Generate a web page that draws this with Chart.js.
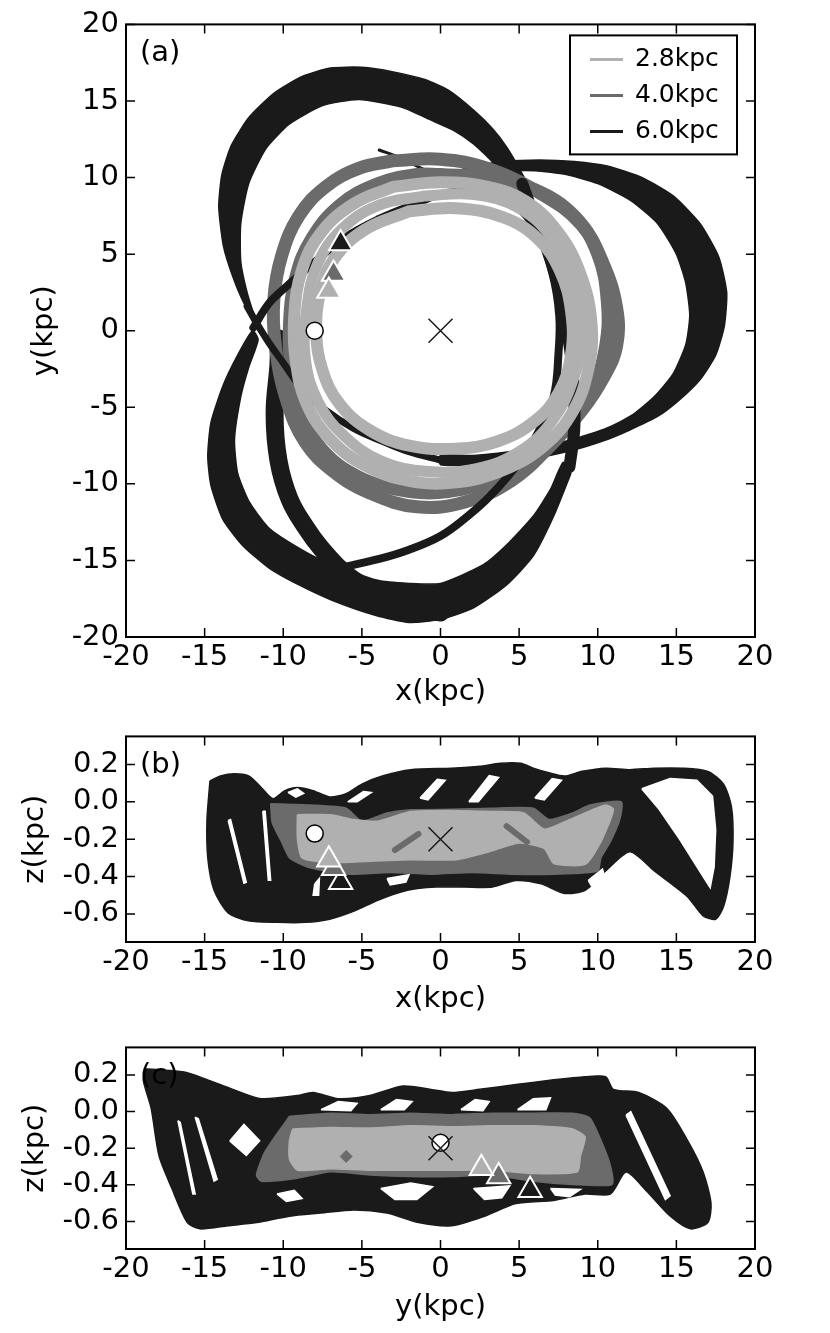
<!DOCTYPE html>
<html>
<head>
<meta charset="utf-8">
<script src="https://cdn.jsdelivr.net/npm/chart.js@4/dist/chart.umd.min.js"></script>
<style>
  body { margin: 0; background: #fff; }
  canvas { position: absolute; left: 0; }
</style>
</head>
<body>
<canvas id="pa" width="830" height="712" style="top:0"></canvas>
<canvas id="pb" width="830" height="311" style="top:712px"></canvas>
<canvas id="pc" width="830" height="310" style="top:1023px"></canvas>
<script>
// ---- ticks / series ----
const xTicks = [-20, -15, -10, -5, 0, 5, 10, 15, 20];
const yTicksA = [-20, -15, -10, -5, 0, 5, 10, 15, 20];
const zTicks = [-0.6, -0.4, -0.2, 0.0, 0.2];
const seriesLabels = ['2.8kpc', '4.0kpc', '6.0kpc'];
const seriesColors = ['#b0b0b0', '#6b6b6b', '#1a1a1a'];

// markers: sun, centre, start points of the three orbits (x, y, z)
const sunXYZ = [-8.0, 0.0, -0.17];
const centreXYZ = [0.0, 0.0, -0.2];
const startX = [-7.1, -6.8, -6.35];
const startY = [2.6, 3.7, 5.7];
const startZ = [-0.31, -0.355, -0.43];

// ---- panel (a): x-y plane ----
// 2.8 kpc orbit passes
const aLight1 = [[-3,9.4],[0,9.7],[3,9.4],[5.5,8.4],[7.5,6.4],[8.9,3.7],[9.6,0.5],[9.4,-2.5],[8.4,-5.3],[6.6,-7.5],[4,-9.1],[1,-9.9],[-2,-9.8],[-4.8,-8.8],[-7,-7.1],[-8.5,-4.8],[-9.2,-2],[-9.3,1],[-8.8,4],[-7.6,6.4],[-5.5,8.3]];
const aLight2 = [[-2,7.8],[1,8.0],[4,7.4],[6.2,6.0],[7.6,3.9],[8.3,1.3],[8.3,-1.6],[7.5,-4.1],[6.0,-5.9],[3.7,-7.2],[1,-7.7],[-2,-7.5],[-4.5,-6.5],[-6.4,-4.8],[-7.5,-2.6],[-7.9,0],[-7.6,2.7],[-6.7,4.8],[-4.8,6.6]];
const aLight3 = [[-1,8.8],[2,8.9],[5,8.0],[7.2,5.9],[8.6,3],[9.0,0],[8.5,-3],[7.1,-5.9],[5,-7.9],[2.3,-9.0],[-0.8,-9.2],[-3.8,-8.5],[-6.2,-6.8],[-7.8,-4.6],[-8.6,-1.8],[-8.5,1.5],[-7.8,4.4],[-6.2,6.7],[-3.9,8.2]];
// 4.0 kpc orbit passes
const aGrey1 = [[-3,11.1],[0,11.2],[3,10.6],[6.3,9],[8.9,7],[10.3,4.5],[11.2,1.5],[11.2,-1],[10.4,-3],[9,-5.2],[7,-7.5],[4.5,-9.8],[1.5,-11.2],[-1.5,-11.5],[-4.5,-10.6],[-6.8,-9.2],[-8.6,-7.3],[-9.8,-4.5],[-10.5,-1],[-10.6,2],[-10.1,4.9],[-9,7.5],[-7.3,9.4],[-5.2,10.6]];
const aGrey2 = [[0,10.2],[3,10],[6,9.2],[8.5,7.5],[10,5],[10.6,2],[10.5,-1],[9.6,-4],[8,-6.3],[6,-8],[3.5,-9.6],[0.5,-10.5],[-2.5,-10.4],[-5.3,-9.5],[-7.5,-7.8],[-8.8,-5.5],[-9.5,-2.5],[-9.6,0.5],[-9.2,3.5],[-8.2,6],[-6.4,8.2],[-4,9.6],[-1.5,10.2]];
// 6.0 kpc orbit: wide bands (outer edge then inner edge)
const aBlackTop = [[-11.7,0.5],[-12.5,1.8],[-13.2,3.5],[-13.8,5.5],[-14.1,8.1],[-13.9,10.2],[-13.3,12.1],[-12.2,13.9],[-10.6,15.5],[-8.8,16.6],[-7,17.15],[-5,17.2],[-3,16.9],[-1,16.4],[0.5,15.7],[2.1,14.4],[3.3,13.2],[4.2,12],[5.0,10.6],[5.6,9.3],
  [4.85,8.8],[4.2,9.6],[3.4,10.9],[2.1,12.2],[0.8,13.1],[-0.5,13.7],[-2.5,14.6],[-5.2,15.1],[-7.5,14.7],[-9.6,13.5],[-11.1,11.9],[-12.2,9.6],[-12.7,7],[-12.7,4.5],[-12.3,2.5]];
const aBlackRight = [[0,10.1],[2,10.7],[4,11.05],[6.3,11.15],[8.5,11.05],[10.6,10.75],[12.8,10],[14.8,8.8],[16.5,7.0],[17.7,4.8],[18.2,2.5],[18.05,0.3],[17.5,-1.6],[16.5,-3.2],[15.1,-4.6],[13.8,-5.6],[12,-6.5],[10.6,-7.1],[8.4,-7.8],[5.3,-8.45],[2.1,-8.75],[0,-8.75],
  [0,-8.15],[2.1,-8.15],[5.3,-7.75],[8.4,-7.1],[10.6,-6.35],[12.2,-5.5],[13.6,-4.3],[14.8,-2.8],[15.6,-0.9],[15.85,1],[15.6,3.1],[15,5],[13.8,7],[12.1,8.5],[10,9.6],[8,10.2],[6,10.45],[4,10.4],[2,10.1],[0,9.6]];
const aBlackBottom = [[8.3,-9.3],[7.2,-12.1],[5.9,-14.7],[4.2,-16.6],[2.1,-18.1],[0,-18.85],[-2,-19.05],[-4.1,-18.6],[-6.9,-17.6],[-9,-16.6],[-10.9,-15.5],[-12.6,-14.0],[-13.85,-12.3],[-14.6,-10.1],[-14.8,-8.2],[-14.6,-6],[-13.85,-3.64],[-12.9,-1.6],[-11.95,0.0],
  [-11.6,-0.6],[-12.2,-2.4],[-12.7,-4.3],[-13.1,-7.1],[-12.9,-9.3],[-12.15,-11.2],[-10.9,-12.9],[-9,-14.2],[-7.3,-15.1],[-4,-16.3],[-2,-16.5],[0,-16.5],[2.7,-15.3],[4.2,-14],[5.9,-12.1],[7,-10.35],[7.8,-8.6]];
// 6.0 kpc orbit: narrow strands
const aStrand1 = [[-3.9,11.8],[-2.6,11.3],[-1.2,10.6],[0,10.1],[1,10.3]];
const aStrand2 = [[0,-8.45],[-2,-7.9],[-3.5,-7.3],[-5.5,-6.4],[-7.3,-5.2],[-8.8,-3.8],[-10,-2.1],[-10.9,-0.8],[-11.7,0.5],[-12.3,1.6]];
const aStrand3 = [[-11.9,0.2],[-10.9,1.8],[-10,2.7],[-8.1,4.4],[-6.2,6],[-3.9,7.3],[-1.55,8.3],[0,8.9],[2.5,9.1],[4.6,8.3],[6.1,6.5],[7.1,3.8],[7.55,1],[7.5,-1.5],[7.2,-4.3],[6.3,-6.45],[5.3,-8.2],[3.15,-10.8],[1.5,-12.3],[0,-13.4],[-2,-14.3],[-3.9,-14.9],[-6.9,-15.6]];
const aStrand4 = [[5.2,9.6],[5.9,7.6],[6.6,5.8],[7.2,4],[7.7,2],[8.05,0],[8.35,-2.1],[8.5,-4.5],[8.5,-6.5],[8.2,-8.9]];
const aStrand5 = [[-10.3,-0.5],[-10.3,-2.1],[-10.55,-5.4],[-10.3,-8.5],[-9.6,-11],[-8.6,-12.8],[-7.6,-14.2],[-6,-15.9],[-3.9,-17.2],[-2,-17.9],[0,-18.4]];

// ---- panel (b): x-z plane ----
const bBlack = [[-14.66,0.112],[-14.0,0.138],[-13.1,0.15],[-12.2,0.138],[-11.4,0.077],[-10.66,0.017],[-9.9,0.06],[-9.1,0.077],[-8.1,0.06],[-7.05,0.026],[-6.0,0.043],[-5.0,0.095],[-3.7,0.138],[-1.9,0.172],[0.7,0.18],[2.5,0.19],[3.8,0.206],[5.1,0.206],[5.9,0.18],[6.9,0.155],[7.9,0.138],[9.0,0.163],[10.5,0.18],[12.05,0.172],[13.6,0.18],[15.4,0.18],[17.0,0.163],[18.0,0.095],[18.5,-0.026],[18.6,-0.215],[18.4,-0.404],[18.0,-0.56],[17.5,-0.628],[16.7,-0.61],[15.7,-0.507],[13.6,-0.37],[12.05,-0.267],[10.5,-0.37],[9.2,-0.473],[7.9,-0.49],[6.4,-0.439],[4.8,-0.421],[3.3,-0.456],[1.5,-0.456],[-0.3,-0.456],[-2.1,-0.473],[-3.95,-0.525],[-5.5,-0.585],[-7.05,-0.628],[-8.6,-0.645],[-10.4,-0.645],[-12.2,-0.637],[-13.5,-0.594],[-14.4,-0.473],[-14.8,-0.3],[-14.85,-0.095]];
const bGaps = [
  [[12.8,0.07],[14.6,0.125],[16.3,0.115],[17.3,0.03],[17.5,-0.15],[17.4,-0.35],[17.15,-0.46],[16.4,-0.36],[15.2,-0.2],[13.9,-0.04]],
  [[-1.3,0.02],[-0.2,0.12],[0.3,0.115],[-0.8,0.01]],
  [[1.8,0.0],[3.1,0.14],[3.7,0.13],[2.4,0.0]],
  [[6.0,0.02],[7.1,0.125],[7.7,0.115],[6.6,0.01]],
  [[-9.7,0.05],[-9.1,0.07],[-8.7,0.045],[-9.2,0.025]],
  [[-5.9,0.0],[-4.9,0.055],[-4.4,0.05],[-5.3,0.0]],
  [[-3.4,-0.41],[-2.0,-0.39],[-2.2,-0.43],[-3.2,-0.445]],
  [[-8.0,-0.44],[-7.7,-0.41],[-7.75,-0.5],[-8.1,-0.5]],
  [[-13.5,-0.1],[-13.35,-0.095],[-12.35,-0.43],[-12.5,-0.435]],
  [[-11.3,-0.05],[-11.15,-0.05],[-10.8,-0.42],[-10.95,-0.42]],
  [[9.4,-0.42],[10.3,-0.36],[10.4,-0.39],[9.6,-0.45]]
];
const bGrey = [[-10.8,-0.01],[-8.3,-0.017],[-6,-0.034],[-5,-0.103],[-3.4,-0.06],[-1.9,-0.043],[0.7,-0.04],[3.3,-0.034],[5.9,-0.034],[6.9,-0.095],[8.4,-0.06],[9.5,-0.017],[11.5,0],[11.4,-0.095],[10.8,-0.215],[10.2,-0.3],[10,-0.37],[7.2,-0.387],[4.6,-0.387],[2,-0.378],[-0.6,-0.387],[-3.2,-0.378],[-5.8,-0.387],[-8.3,-0.353],[-9.6,-0.3],[-10.1,-0.215],[-10.7,-0.112]];
const bLight = [[-9.1,-0.069],[-7,-0.069],[-5.5,-0.095],[-3.95,-0.103],[-1.9,-0.052],[0.7,-0.046],[3.3,-0.052],[5.3,-0.06],[6.6,-0.146],[8.2,-0.095],[10.5,-0.017],[11,-0.043],[10.2,-0.215],[9.2,-0.335],[7.2,-0.33],[6.6,-0.25],[5,-0.22],[3,-0.27],[1,-0.31],[-1.9,-0.31],[-4.5,-0.318],[-7,-0.327],[-8.8,-0.3],[-9.1,-0.198]];
const bGreyStreaks = [[[-2.9,-0.258],[-1.4,-0.172]], [[4.2,-0.13],[5.5,-0.215]]];

// ---- panel (c): y-z plane ----
const cBlack = [[-18.8,0.234],[-16.3,0.216],[-14.8,0.173],[-13.2,0.121],[-11.4,0.07],[-9.1,0.087],[-8.1,0.104],[-6.5,0.07],[-4.5,0.087],[-2.4,0.139],[-0.6,0.121],[0.7,0.104],[2.5,0.121],[4.8,0.147],[7.2,0.173],[9.2,0.19],[10.5,0.19],[11,0.121],[12.6,0.104],[14.4,0.017],[15.7,-0.156],[16.7,-0.33],[17.2,-0.5],[17,-0.606],[15.9,-0.64],[14.6,-0.57],[13.1,-0.433],[11.8,-0.33],[10.8,-0.45],[9.2,-0.45],[7.2,-0.485],[4.8,-0.502],[2.8,-0.571],[0.7,-0.623],[-1.4,-0.606],[-3.4,-0.554],[-5.5,-0.537],[-7.6,-0.554],[-9.6,-0.571],[-11.7,-0.606],[-13.5,-0.623],[-15.3,-0.64],[-16.1,-0.606],[-17.1,-0.416],[-17.9,-0.242],[-18.4,0.017],[-18.9,0.17]];
const cGaps = [
  [[-13.4,-0.16],[-12.5,-0.07],[-11.5,-0.16],[-12.35,-0.24]],
  [[-15.6,-0.03],[-15.4,-0.04],[-14.2,-0.37],[-14.4,-0.38]],
  [[-16.7,-0.05],[-16.55,-0.06],[-15.6,-0.45],[-15.75,-0.45]],
  [[-3.8,-0.42],[-1.9,-0.39],[-0.5,-0.41],[-1.5,-0.48],[-2.9,-0.48]],
  [[2.1,-0.42],[4.4,-0.405],[3.9,-0.47],[2.8,-0.48]],
  [[7.0,-0.42],[8.9,-0.425],[8.2,-0.465],[7.3,-0.455]],
  [[-7.6,0.01],[-6.5,0.055],[-5.3,0.045],[-5.7,0.005]],
  [[1.3,0.01],[2.2,0.065],[3.1,0.055],[2.7,0.005]],
  [[4.9,0.01],[5.9,0.07],[7.0,0.075],[6.7,0.01]],
  [[-3.8,0.01],[-2.8,0.065],[-1.8,0.055],[-2.3,0.01]],
  [[11.8,-0.02],[12.1,0.0],[14.6,-0.46],[14.3,-0.48]],
  [[-10.4,-0.45],[-9.3,-0.43],[-8.8,-0.475],[-9.8,-0.49]]
];
const cGrey = [[-9.6,-0.026],[-7,-0.009],[-4.5,-0.017],[-1.9,-0.009],[0.7,-0.017],[3.3,-0.009],[5.9,-0.009],[8.4,-0.009],[9.5,-0.035],[10.2,-0.156],[10.8,-0.294],[10.9,-0.398],[8.4,-0.398],[5.9,-0.381],[3.3,-0.346],[0.7,-0.355],[-1.9,-0.355],[-4.5,-0.346],[-7,-0.329],[-9.1,-0.364],[-11.4,-0.381],[-11.7,-0.346],[-11.2,-0.225],[-10.4,-0.121]];
const cLight = [[-9.4,-0.095],[-7,-0.087],[-4.5,-0.09],[-1.9,-0.078],[0.7,-0.083],[3.3,-0.078],[5.9,-0.078],[8.4,-0.095],[9.2,-0.139],[8.9,-0.242],[8.7,-0.329],[5.9,-0.338],[3.3,-0.32],[0.7,-0.32],[-1.9,-0.32],[-4.5,-0.32],[-7,-0.312],[-9.1,-0.32],[-9.6,-0.26],[-9.6,-0.156]];
const cGreySpot = [[-6.0, -0.245]];

const FONT = 'DejaVu Sans';
const [LIGHT, GREY, BLACK] = seriesColors;

const pts = arr => arr.map(([x, y]) => ({x, y}));
const loop = arr => pts(arr.concat([arr[0]]));

// band drawn as filled closed shape
const band = (arr, color, order, tension = 0.2) => ({
  data: loop(arr), showLine: true, fill: 'shape', backgroundColor: color,
  borderColor: color, borderWidth: 1.5, pointRadius: 0, tension, order, clip: 0
});
// thick open or closed path
const path = (data, color, width, order, tension = 0.4) => ({
  data, showLine: true, fill: false, borderColor: color, borderWidth: width,
  borderCapStyle: 'round', borderJoinStyle: 'round', pointRadius: 0, tension, order, clip: 0
});
const marker = (data, style, radius, fillC, edgeC, edgeW) => ({
  data, showLine: false, pointStyle: style, pointRadius: radius,
  backgroundColor: fillC, borderColor: edgeC, borderWidth: edgeW, order: 0, clip: false
});
const markers = (h, v) => [
  marker([{x: centreXYZ[h], y: centreXYZ[v]}], 'crossRot', 17, BLACK, BLACK, 1.5),
  marker([{x: sunXYZ[h], y: sunXYZ[v]}], 'circle', 8.5, '#fff', '#000', 1.5),
  ...seriesColors.map((c, i) => {
    const s = [startX[i], startY[i], startZ[i]];
    return marker([{x: s[h], y: s[v]}], 'triangle', 13.5, c, '#fff', 2);
  })
];

// frame, inward ticks and panel letter
const framePlugin = {
  id: 'frame',
  afterDatasetsDraw(chart, args, o) {
    const {ctx, chartArea: a, scales: {x, y}} = chart;
    ctx.save();
    ctx.strokeStyle = '#000';
    ctx.lineWidth = 1.5;
    ctx.beginPath();
    x.ticks.forEach(t => {
      const p = x.getPixelForValue(t.value);
      ctx.moveTo(p, a.bottom); ctx.lineTo(p, a.bottom - 9);
      ctx.moveTo(p, a.top); ctx.lineTo(p, a.top + 9);
    });
    y.ticks.forEach(t => {
      const p = y.getPixelForValue(t.value);
      ctx.moveTo(a.left, p); ctx.lineTo(a.left + 9, p);
      ctx.moveTo(a.right, p); ctx.lineTo(a.right - 9, p);
    });
    ctx.stroke();
    ctx.lineWidth = 2;
    ctx.strokeRect(a.left, a.top, a.right - a.left, a.bottom - a.top);
    ctx.fillStyle = '#000';
    ctx.font = '29px "' + FONT + '"';
    ctx.textBaseline = 'middle';
    ctx.fillText(o.label, a.left + 14, a.top + 29);
    ctx.restore();
  }
};

const keyPlugin = {
  id: 'keyBox',
  afterDraw(chart, args, o) {
    if (!o.show) return;
    const {ctx, chartArea: a} = chart;
    const r = a.right - 18, l = r - 167, t = a.top + 11, h = 119;
    ctx.save();
    ctx.fillStyle = '#fff';
    ctx.fillRect(l, t, r - l, h);
    ctx.strokeStyle = '#000';
    ctx.lineWidth = 2;
    ctx.strokeRect(l, t, r - l, h);
    ctx.font = '25px "' + FONT + '"';
    ctx.textBaseline = 'middle';
    seriesLabels.forEach((lab, i) => {
      const yy = t + 24 + i * 36;
      ctx.strokeStyle = seriesColors[i];
      ctx.lineWidth = 3;
      ctx.beginPath(); ctx.moveTo(l + 20, yy); ctx.lineTo(l + 53, yy); ctx.stroke();
      ctx.fillStyle = '#000';
      ctx.fillText(lab, l + 65, yy);
    });
    ctx.restore();
  }
};

function makePanel(id, cfg) {
  const tickFont = {family: FONT, size: 29};
  return new Chart(document.getElementById(id), {
    type: 'scatter',
    data: {datasets: cfg.datasets},
    options: {
      responsive: false, animation: false, devicePixelRatio: 1, events: [],
      layout: {padding: {left: 0, right: 75, top: cfg.padTop, bottom: 0}},
      plugins: {
        legend: {display: false}, tooltip: {enabled: false},
        frame: {label: cfg.label}, keyBox: {show: !!cfg.key}
      },
      scales: {
        x: {
          type: 'linear', min: -20, max: 20,
          afterBuildTicks: s => { s.ticks = xTicks.map(v => ({value: v})); },
          afterFit: s => { s.height = cfg.xAxisH; },
          grid: {display: false, drawTicks: false}, border: {display: false},
          ticks: {padding: 3, color: '#000', font: tickFont, maxRotation: 0, autoSkip: false, callback: v => String(v)},
          title: {display: true, text: cfg.xTitle, color: '#000', font: tickFont, padding: {top: 0, bottom: cfg.xTitlePad}}
        },
        y: {
          type: 'linear', min: cfg.yMin, max: cfg.yMax,
          afterBuildTicks: s => { s.ticks = cfg.yTicks.map(v => ({value: v})); },
          afterFit: s => { s.width = 126; },
          grid: {display: false, drawTicks: false}, border: {display: false},
          ticks: {padding: 7, color: '#000', font: tickFont, autoSkip: false, callback: cfg.yFmt},
          title: {display: true, text: cfg.yTitle, color: '#000', font: tickFont, padding: {top: cfg.yTitlePad, bottom: 0}}
        }
      }
    },
    plugins: [framePlugin, keyPlugin]
  });
}

// panel (a)
makePanel('pa', {
  label: '(a)', key: true, padTop: 20, xAxisH: 75, xTitlePad: 2, yTitlePad: 27,
  yMin: -20, yMax: 20, yTicks: yTicksA, yFmt: v => String(v),
  xTitle: 'x(kpc)', yTitle: 'y(kpc)',
  datasets: [
    ...markers(0, 1),
    path(loop(aLight1), LIGHT, 12, 1),
    path(loop(aLight2), LIGHT, 12, 1),
    path(loop(aLight3), LIGHT, 11, 1),
    path(pts(aStrand2), BLACK, 7, 1.5),
    path(pts(aStrand3), BLACK, 8, 1.5),
    path(pts(aStrand4), BLACK, 12, 1.5),
    path(loop(aGrey1), GREY, 13, 2),
    path(loop(aGrey2), GREY, 13, 2),
    band(aBlackTop, BLACK, 4),
    band(aBlackRight, BLACK, 4),
    band(aBlackBottom, BLACK, 4),
    path(pts(aStrand1), BLACK, 3, 4),
    path(pts(aStrand5), BLACK, 18, 4)
  ]
});

// panel (b)
makePanel('pb', {
  label: '(b)', padTop: 19, xAxisH: 311 - 230, xTitlePad: 6, yTitlePad: 18,
  yMin: -0.75, yMax: 0.35, yTicks: zTicks, yFmt: v => v.toFixed(1),
  xTitle: 'x(kpc)', yTitle: 'z(kpc)',
  datasets: [
    ...markers(0, 2),
    ...bGreyStreaks.map(s => path(pts(s), GREY, 6, 0.5, 0)),
    band(bLight, LIGHT, 1),
    band(bGrey, GREY, 2),
    ...bGaps.map(g => band(g, '#ffffff', 3, 0)),
    band(bBlack, BLACK, 4, 0.25)
  ]
});

// panel (c)
makePanel('pc', {
  label: '(c)', padTop: 12, xAxisH: 310 - 226, xTitlePad: 8, yTitlePad: 18,
  yMin: -0.75, yMax: 0.35, yTicks: zTicks, yFmt: v => v.toFixed(1),
  xTitle: 'y(kpc)', yTitle: 'z(kpc)',
  datasets: [
    ...markers(1, 2),
    marker(pts(cGreySpot), 'rectRot', 6, GREY, GREY, 1),
    band(cLight, LIGHT, 1),
    band(cGrey, GREY, 2),
    ...cGaps.map(g => band(g, '#ffffff', 3, 0)),
    band(cBlack, BLACK, 4, 0.25)
  ]
});
</script>
</body>
</html>
